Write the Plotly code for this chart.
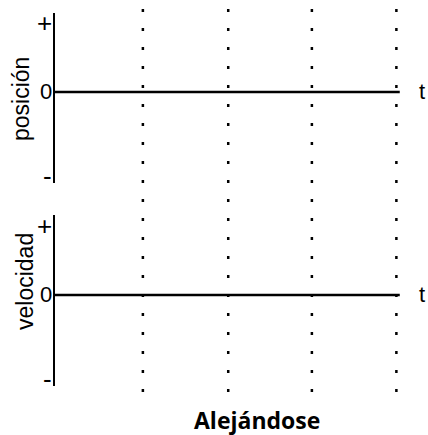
import plotly.graph_objects as go

# ---- data ----
panel_titles = ["posición", "velocidad"]
tick_labels = ["+", "0", "-"]
tick_values = [1.0, 0.0, -1.22]
time_marks = [1.04, 2.05, 3.04, 4.04]   # dotted vertical reference lines
zero_line_t = [0.0, 4.08]
zero_line_v = [0.0, 0.0]
axis_label = "t"
chart_title = "Alejándose"

W, H = 428, 435
def px_x(p):
    return p / W
def px_y(p):
    return 1 - p / H

FONT = "Liberation Sans, Arial, sans-serif"

fig = go.Figure()
fig.add_trace(go.Scatter(x=zero_line_t, y=zero_line_v, mode="lines",
                         line=dict(color="black", width=2.5),
                         xaxis="x", yaxis="y", hoverinfo="skip", showlegend=False))
fig.add_trace(go.Scatter(x=zero_line_t, y=zero_line_v, mode="lines",
                         line=dict(color="black", width=2.5),
                         xaxis="x2", yaxis="y2", hoverinfo="skip", showlegend=False))

xdom = [px_x(55), px_x(55 + 4.2 * 84.5)]
common_x = dict(domain=xdom, range=[0, 4.2], visible=False, fixedrange=True)
common_y = dict(showline=True, linecolor="black", linewidth=2.2, showticklabels=False,
                ticks="", showgrid=False, zeroline=False, fixedrange=True)

fig.update_layout(
    width=W, height=H,
    margin=dict(l=0, r=0, t=0, b=0),
    paper_bgcolor="white", plot_bgcolor="rgba(0,0,0,0)",
    xaxis=dict(**common_x, anchor="y"),
    xaxis2=dict(**common_x, anchor="y2"),
    yaxis=dict(**common_y, domain=[px_y(183), px_y(13)], range=[-1.32, 1.145], anchor="x"),
    yaxis2=dict(**common_y, domain=[px_y(386), px_y(215)], range=[-1.32, 1.16], anchor="x2"),
    showlegend=False,
)

# dotted vertical lines across both panels
for t in time_marks:
    fig.add_shape(type="line", xref="x", yref="paper", x0=t, x1=t,
                  y0=px_y(9), y1=px_y(393),
                  line=dict(color="black", width=2.5, dash="3px,16px"))

sizes = {"+": 26, "0": 22, "-": 26}
annos = []
for yref, ttl, tcy, tx in [("y", panel_titles[0], 99, 21), ("y2", panel_titles[1], 282, 25)]:
    for lab, val in zip(tick_labels, tick_values):
        annos.append(dict(x=px_x(54), xref="paper", y=val, yref=yref, text=lab,
                          xanchor="right", yanchor="middle", showarrow=False,
                          font=dict(family=FONT, size=sizes[lab], color="black")))
    annos.append(dict(x=px_x(417), xref="paper", y=0, yref=yref,
                      text=axis_label, xanchor="left", yanchor="middle", showarrow=False,
                      font=dict(family=FONT, size=22, color="black")))
    annos.append(dict(x=px_x(tx), xref="paper", y=px_y(tcy), yref="paper", text=ttl,
                      textangle=-90, xanchor="center", yanchor="middle", showarrow=False,
                      font=dict(family=FONT, size=23, color="black")))

annos.append(dict(x=px_x(257), xref="paper", y=px_y(420), yref="paper",
                  text="<b>" + chart_title + "</b>", xanchor="center", yanchor="middle",
                  showarrow=False, font=dict(family="Open Sans, sans-serif", size=23, color="black")))
fig.update_layout(annotations=annos)

fig.write_html("out.html", config={"displayModeBar": False},
               post_script="document.body.style.margin='0';document.body.style.overflow='hidden';")
